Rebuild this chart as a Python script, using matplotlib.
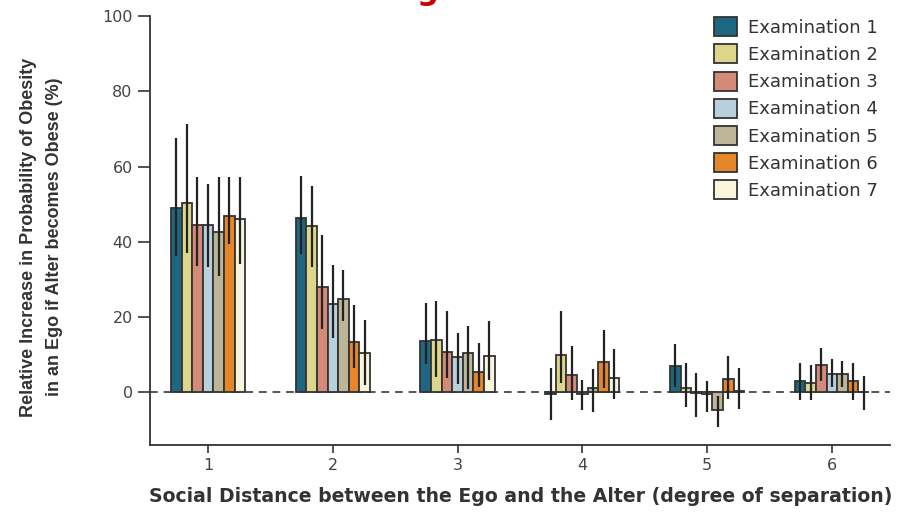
import matplotlib.pyplot as plt
import numpy as np

degrees = [1, 2, 3, 4, 5, 6]
exams = ["Examination 1", "Examination 2", "Examination 3", "Examination 4",
         "Examination 5", "Examination 6", "Examination 7"]
colors = ["#1f6680", "#ddd68a", "#d38a78", "#b8cfdc", "#bcb598", "#e5862a", "#f8f5dc"]

# bar values per examination (one value per degree of separation)
ex1 = [49.1, 46.2, 13.6, -0.5, 7.0, 3.0]
ex2 = [50.4, 44.2, 14.0, 9.9, 1.1, 2.6]
ex3 = [44.6, 27.9, 10.8, 4.6, -0.2, 7.4]
ex4 = [44.6, 23.6, 9.4, -0.5, -0.5, 4.8]
ex5 = [42.5, 24.9, 10.5, 1.3, -4.6, 4.8]
ex6 = [46.9, 13.5, 5.4, 8.2, 3.5, 3.0]
ex7 = [46.0, 10.4, 9.6, 3.8, 0.4, 0.0]

# confidence interval lower / upper ends
lo1 = [36.3, 36.7, 7.6, -7.4, 1.4, -2.1]
hi1 = [67.7, 57.5, 23.8, 6.6, 12.8, 7.9]
lo2 = [37.0, 33.2, 4.1, 2.5, -3.9, -2.1]
hi2 = [71.3, 54.9, 24.2, 21.5, 7.9, 7.4]
lo3 = [33.6, 16.8, 3.8, -2.1, -6.6, 3.0]
hi3 = [57.1, 41.8, 21.5, 12.2, 5.2, 11.9]
lo4 = [33.2, 14.5, 2.3, -4.8, -5.2, 1.4]
hi4 = [55.3, 33.9, 15.8, 3.4, 3.0, 8.8]
lo5 = [30.9, 19.0, 1.0, -5.2, -9.2, 1.4]
hi5 = [57.1, 32.4, 17.6, 6.1, -1.0, 8.3]
lo6 = [39.4, 6.6, 1.4, 1.3, -1.8, -2.1]
hi6 = [57.1, 23.2, 13.1, 16.7, 9.7, 7.9]
lo7 = [34.0, 1.9, 3.2, -1.7, -4.3, -4.8]
hi7 = [57.1, 19.2, 18.9, 11.4, 6.6, 4.3]

values = [ex1, ex2, ex3, ex4, ex5, ex6, ex7]
lows = [lo1, lo2, lo3, lo4, lo5, lo6, lo7]
highs = [hi1, hi2, hi3, hi4, hi5, hi6, hi7]

fig = plt.figure(figsize=(9.04, 5.14), dpi=100)
ax = fig.add_axes([0.166, 0.134, 0.819, 0.835])

x = np.array(degrees, dtype=float)
w = 0.085
for i in range(7):
    v = np.array(values[i])
    pos = x + (i - 3) * w
    err = [v - np.array(lows[i]), np.array(highs[i]) - v]
    ax.bar(pos, v, w, color=colors[i], edgecolor="#333333", linewidth=1.3,
           label=exams[i], zorder=3)
    ax.errorbar(pos, v, yerr=err, fmt="none", ecolor="#222222",
                elinewidth=1.6, capsize=0, zorder=4)

ax.axhline(0, color="#555555", linestyle=(0, (4, 3)), linewidth=1.4, zorder=2)

ax.set_xlim(0.535, 6.47)
ax.set_ylim(-14, 100)
ax.set_yticks([0, 20, 40, 60, 80, 100])
ax.set_xticks(degrees)
for s in ["top", "right"]:
    ax.spines[s].set_visible(False)
for s in ["left", "bottom"]:
    ax.spines[s].set_color("#333333")
    ax.spines[s].set_linewidth(1.3)
ax.tick_params(axis="both", colors="#333333", labelcolor="#444444",
               labelsize=11.5, width=1.2)
ax.tick_params(axis="y", length=9)
ax.tick_params(axis="x", length=6)

ax.set_xlabel("Social Distance between the Ego and the Alter (degree of separation)",
              fontsize=13.6, fontweight="bold", color="#333333", labelpad=10)
ax.set_ylabel("Relative Increase in Probability of Obesity\nin an Ego if Alter becomes Obese (%)",
              fontsize=13, fontweight="bold", color="#333333",
              linespacing=1.65, family=["Liberation Sans", "DejaVu Sans"])
ax.yaxis.set_label_coords(-0.118, 0.485)

leg = ax.legend(loc="upper right", bbox_to_anchor=(1.005, 1.035), frameon=False,
                fontsize=13, handlelength=1.3, handleheight=1.25,
                labelspacing=0.42, handletextpad=0.6, labelcolor="#333333")

fig.text(0.473, 1.0, "g", color="#cc0000", fontsize=22, fontweight="bold",
         ha="center", va="baseline")

fig.savefig("out.png", dpi=100)
